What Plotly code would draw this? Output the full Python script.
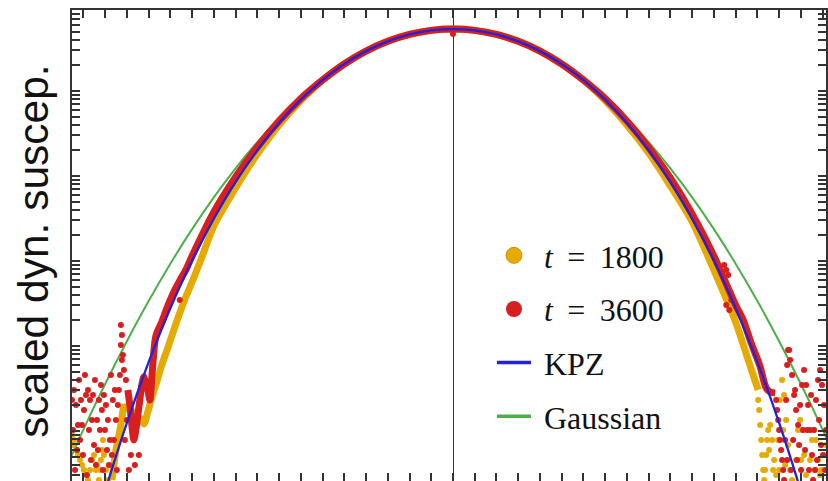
import plotly.graph_objects as go

# ---------------- data ----------------
# theory curves, x in scaled units (tick spacing 0.25)
kpz_x = [-4.25, -4.0, -3.75, -3.5, -3.25, -3.0, -2.75, -2.5, -2.25, -2.0, -1.75, -1.5,
         -1.25, -1.0, -0.75, -0.5, -0.25, 0.0, 0.25, 0.5, 0.75, 1.0, 1.25, 1.5, 1.75,
         2.0, 2.25, 2.5, 2.75, 3.0, 3.25, 3.5, 3.75, 4.0, 4.25]
kpz_y = [2.48e-7, 1.957e-6, 1.245e-5, 6.449e-5, 2.785e-4, 1.014e-3, 3.145e-3, 8.501e-3,
         2.007e-2, 4.213e-2, 7.92e-2, 0.1345, 0.208, 0.2945, 0.3841, 0.4627, 0.517, 0.536,
         0.517, 0.4627, 0.3841, 0.2945, 0.208, 0.1345, 7.92e-2, 4.213e-2, 2.007e-2,
         8.501e-3, 3.145e-3, 1.014e-3, 2.785e-4, 6.449e-5, 1.245e-5, 1.957e-6, 2.48e-7]

gauss_x = [-4.5, -4.25, -4.0, -3.75, -3.5, -3.25, -3.0, -2.75, -2.5, -2.25, -2.0, -1.75,
           -1.5, -1.25, -1.0, -0.75, -0.5, -0.25, 0.0, 0.25, 0.5, 0.75, 1.0, 1.25, 1.5,
           1.75, 2.0, 2.25, 2.5, 2.75, 3.0, 3.25, 3.5, 3.75, 4.0, 4.25, 4.5]
gauss_y = [2.79e-6, 1.04e-5, 3.57e-5, 1.14e-4, 3.38e-4, 9.29e-4, 2.37e-3, 5.61e-3, 1.232e-2,
           2.51e-2, 4.75e-2, 8.32e-2, 0.1355, 0.2046, 0.2866, 0.3725, 0.449, 0.503, 0.522,
           0.503, 0.449, 0.3725, 0.2866, 0.2046, 0.1355, 8.32e-2, 4.75e-2, 2.51e-2, 1.232e-2,
           5.61e-3, 2.37e-3, 9.29e-4, 3.38e-4, 1.14e-4, 3.57e-5, 1.04e-5, 2.79e-6]

# t = 3600, dense (continuous-looking) part
t3600_core_x = [-3.739, -3.716, -3.693, -3.670, -3.647, -3.624, -3.601, -3.578, -3.555, -3.532,
                -3.509, -3.486, -3.475, -3.452,
                -3.417, -3.349, -3.280, -3.200, -3.131, -3.073, -3.0, -2.75, -2.5, -2.25,
                -2.0, -1.75, -1.5, -1.25, -1.0, -0.75, -0.5, -0.25, 0.0, 0.25, 0.5, 0.75,
                1.0, 1.25, 1.5, 1.75, 2.0, 2.25, 2.5, 2.75, 3.0, 3.25, 3.337, 3.429, 3.529,
                3.601, 3.647, 3.704]
t3600_core_y = [3.04e-5, 2.02e-5, 1.18e-5, 7.84e-6, 1.03e-5, 1.54e-5, 2.32e-5, 3.48e-5, 4.32e-5,
                3.48e-5, 3.04e-5, 2.32e-5, 2.88e-5, 5.98e-5,
                1.31e-4, 1.92e-4, 2.96e-4, 4.56e-4, 6.14e-4, 7.84e-4, 1.146e-3, 3.771e-3,
                9.732e-3, 2.194e-2, 4.448e-2, 8.14e-2, 0.1345, 0.208, 0.2945, 0.3841, 0.4627,
                0.517, 0.536, 0.517, 0.4627, 0.3841, 0.2945, 0.208, 0.1345, 8.14e-2, 4.44e-2,
                2.164e-2, 9.474e-3, 3.573e-3, 1.146e-3, 3.04e-4, 2.02e-4, 1.08e-4, 5.82e-5,
                3.21e-5, 2.88e-5, 2.80e-5]
# t = 3600, scattered points in the tails
t3600_tail_x = [-3.796, -3.807, -3.819, -3.819, -3.807, -3.830, -3.842, -3.853, -3.876, -3.899,
                -3.922, -3.945, -3.968, -3.991, -4.014, -4.037, -4.060, -4.083, -4.106, -4.128,
                -4.151, -4.174, -4.197, -4.220, -4.243, -4.266, -4.289, -4.312, -4.335, -4.358,
                -4.381, -3.911, -3.956, -4.002, -4.048, -4.094, -4.140, -4.186, -4.232, -4.278,
                -4.323, -4.369, -3.750, -3.704, -3.865, -3.773, -3.658, -4.025, -4.163, -4.209,
                -4.300, -4.071, -3.888, -3.142, -3.612, -3.933, -4.117, -4.255, -4.346, -3.979,
                -3.727, -3.784, -3.761,
                0.0,
                3.716, 3.727, 3.739, 3.750, 3.761, 3.773, 3.784, 3.796, 3.807, 3.819, 3.830,
                3.842, 3.853, 3.865, 3.876, 3.899, 3.922, 3.945, 3.968, 3.991, 4.014, 4.037,
                4.060, 4.083, 4.106, 4.128, 4.151, 4.174, 4.197, 4.220, 4.243, 4.266, 4.289,
                3.911, 3.956, 4.002, 4.048, 4.094, 4.140, 4.186, 4.232, 4.278, 3.888, 3.842,
                3.933, 4.025, 4.117, 4.209, 4.255, 3.979, 4.071, 4.163,
                3.119, 3.142, 3.165, 3.142, 3.177, 3.200]
t3600_tail_y = [7.84e-5, 1.35e-4, 1.77e-4, 1.03e-4, 6.84e-5, 4.56e-5, 3.04e-5, 2.02e-5, 1.35e-5,
                7.84e-6, 5.22e-6, 7.84e-6, 1.35e-5, 2.02e-5, 2.65e-5, 1.77e-5, 1.03e-5, 5.98e-6,
                3.98e-6, 6.84e-6, 1.35e-5, 2.32e-5, 3.04e-5, 2.65e-5, 1.77e-5, 1.18e-5, 7.84e-6,
                1.18e-5, 2.02e-5, 3.04e-5, 2.32e-5, 2.32e-5, 3.98e-6, 1.03e-5, 3.48e-5, 1.35e-5,
                2.65e-5, 1.03e-5, 4.56e-5, 2.32e-5, 5.98e-6, 1.03e-5, 1.35e-5, 5.22e-6, 3.48e-6,
                7.84e-6, 3.98e-6, 3.48e-6, 4.56e-6, 3.04e-6, 3.98e-5, 2.32e-5, 3.04e-5, 3.48e-4,
                5.22e-6, 4.56e-5, 3.98e-5, 5.22e-6, 3.48e-6, 5.98e-6, 3.48e-6, 5.22e-5, 3.98e-5,
                0.469,
                2.32e-5, 1.77e-5, 1.35e-5, 1.03e-5, 7.84e-6, 5.98e-6, 4.56e-6, 3.48e-6, 2.65e-6,
                7.84e-6, 2.32e-5, 5.98e-5, 8.97e-5, 8.97e-5, 6.84e-5, 4.56e-5, 2.65e-5, 1.77e-5,
                1.18e-5, 2.02e-5, 3.48e-5, 5.22e-5, 3.48e-5, 2.02e-5, 1.03e-5, 5.22e-6, 1.03e-5,
                2.32e-5, 3.98e-5, 5.22e-5, 3.48e-5, 2.02e-5, 1.03e-5,
                7.84e-6, 4.56e-6, 3.48e-6, 5.98e-6, 3.48e-6, 2.65e-6, 4.56e-6, 6.84e-6, 3.48e-6,
                3.48e-6, 4.56e-6, 3.04e-5, 1.03e-5, 2.65e-5, 1.35e-5, 5.22e-6, 6.84e-6, 1.03e-5,
                3.48e-6,
                8.97e-4, 7.84e-4, 6.84e-4, 3.04e-4, 2.65e-4, 3.48e-4]

# t = 1800, dense (continuous-looking) part
t1800_core_x = [-3.922, -3.899, -3.876, -3.853, -3.830, -3.807, -3.784, -3.739, -3.693, -3.647,
                -3.601, -3.555, -3.509, -3.463,
                -3.417, -3.349, -3.280, -3.211, -3.142, -3.073, -3.0, -2.878, -2.75, -2.5,
                -2.25, -2.0, -1.75, -1.5, -1.25, -1.0, -0.75, -0.5, -0.25, 0.0, 0.25, 0.5,
                0.75, 1.0, 1.25, 1.5, 1.75, 2.0, 2.25, 2.5, 2.75, 3.0, 3.25, 3.357, 3.417,
                3.471, 3.509]
t1800_core_y = [2.65e-6, 3.98e-6, 5.98e-6, 7.84e-6, 1.03e-5, 1.42e-5, 1.92e-5, 1.81e-5, 1.72e-5,
                1.58e-5, 1.42e-5, 1.21e-5, 1.68e-5, 2.51e-5,
                3.48e-5, 5.98e-5, 9.47e-5, 1.54e-4, 2.45e-4, 3.77e-4, 5.66e-4, 1.18e-3,
                2.58e-3, 7.225e-3, 1.815e-2, 3.98e-2, 7.71e-2, 0.1345, 0.208, 0.2945, 0.3841,
                0.4627, 0.517, 0.536, 0.517, 0.4627, 0.3841, 0.2945, 0.208, 0.1345, 7.71e-2,
                3.98e-2, 1.865e-2, 7.627e-3, 2.88e-3, 7.84e-4, 1.92e-4, 8.97e-5, 5.82e-5,
                3.98e-5, 3.04e-5]
# t = 1800, scattered points in the tails
t1800_tail_x = [-4.025, -4.037, -4.048, -4.060, -4.071, -4.014, -4.094, -4.381,
                -4.358, -4.335, -4.312, -4.289, -4.266, -4.243, -4.220, -4.197, -4.174, -4.151,
                -4.128, -4.106, -3.991, -3.968, -4.369,
                3.521, 3.532, 3.544, 3.555, 3.567, 3.578, 3.601, 3.624, 3.647, 3.670, 3.693,
                3.716, 3.739, 3.761, 3.784, 3.807, 3.830, 3.853, 3.876, 3.899, 3.945, 3.968,
                3.991, 4.014, 4.037, 4.060, 4.106, 4.128, 4.151, 4.174, 4.197, 4.220, 4.266,
                4.289, 3.589, 3.635, 3.681, 3.796, 3.819, 4.002, 4.163, 4.232, 3.750, 3.612,
                3.509]
t1800_tail_y = [7.84e-6, 5.98e-6, 4.56e-6, 3.48e-6, 2.65e-6, 5.22e-6, 3.98e-6, 8.97e-6,
                7.84e-6, 5.98e-6, 5.22e-6, 4.56e-6, 3.98e-6, 3.48e-6, 3.04e-6, 2.65e-6, 3.48e-6,
                4.56e-6, 5.22e-6, 3.48e-6, 3.48e-6, 2.65e-6, 6.84e-6,
                1.77e-5, 1.18e-5, 7.84e-6, 5.22e-6, 3.48e-6, 2.65e-6, 5.22e-6, 1.03e-5, 1.18e-5,
                7.84e-6, 4.56e-6, 3.04e-6, 7.84e-6, 2.32e-5, 3.98e-5, 2.65e-5, 1.35e-5, 6.84e-6,
                3.48e-6, 2.65e-6, 4.56e-6, 1.03e-5, 1.35e-5, 1.03e-5, 5.22e-6, 3.04e-6, 4.56e-6,
                7.84e-6, 1.03e-5, 7.84e-6, 4.56e-6, 3.04e-6, 5.22e-6, 6.84e-6, 3.48e-6, 5.98e-6,
                3.48e-6, 1.03e-5, 3.98e-6, 4.56e-6, 3.48e-6, 3.48e-6, 3.48e-6, 7.84e-6, 2.32e-5]

legend_names = ["<i>t</i> \u2009=\u2009 1800", "<i>t</i> \u2009=\u2009 3600", "KPZ", "Gaussian"]

# ---------------- styling ----------------
YELLOW = "#e6ab02"
RED = "#d71f1f"
BLUE = "#2222dd"
GREEN = "#4daf4a"
AX = "#333333"

fig = go.Figure()

fig.add_trace(go.Scatter(x=gauss_x, y=gauss_y, mode="lines", line=dict(color=GREEN, width=2, shape="spline"),
                         showlegend=False, hoverinfo="skip"))
fig.add_trace(go.Scatter(x=t1800_core_x, y=t1800_core_y, mode="lines",
                         line=dict(color=YELLOW, width=7, shape="spline", smoothing=0.8),
                         showlegend=False, hoverinfo="skip"))
fig.add_trace(go.Scatter(x=t1800_tail_x, y=t1800_tail_y, mode="markers", marker=dict(color=YELLOW, size=6),
                         showlegend=False, hoverinfo="skip"))
fig.add_trace(go.Scatter(x=t3600_core_x, y=t3600_core_y, mode="lines",
                         line=dict(color=RED, width=7, shape="spline", smoothing=0.8),
                         showlegend=False, hoverinfo="skip"))
fig.add_trace(go.Scatter(x=t3600_tail_x, y=t3600_tail_y, mode="markers", marker=dict(color=RED, size=6),
                         showlegend=False, hoverinfo="skip"))
fig.add_trace(go.Scatter(x=kpz_x, y=kpz_y, mode="lines", line=dict(color=BLUE, width=2.3, shape="spline"),
                         showlegend=False, hoverinfo="skip"))

# legend entries
NB = "\u00a0"
fig.add_trace(go.Scatter(x=[None], y=[None], mode="markers", name=NB + legend_names[0], legendgroup="a",
                         marker=dict(color=YELLOW, size=16, line=dict(color="#c99500", width=1))))
fig.add_trace(go.Scatter(x=[None], y=[None], mode="markers", name=NB + legend_names[1], legendgroup="b",
                         marker=dict(color=RED, size=16)))
fig.add_trace(go.Scatter(x=[None], y=[None], mode="lines", name=NB + legend_names[2], legendgroup="c",
                         line=dict(color=BLUE, width=3.5)))
fig.add_trace(go.Scatter(x=[None], y=[None], mode="lines", name=NB + legend_names[3], legendgroup="d",
                         line=dict(color=GREEN, width=3.5)))

ytv = [m * 10.0 ** e for e in range(-7, 1) for m in range(1, 10)]

fig.update_layout(
    width=828, height=481,
    margin=dict(l=72, r=0, t=10, b=0),
    paper_bgcolor="white", plot_bgcolor="white",
    font=dict(family="Liberation Serif", color="#111111"),
    legend=dict(x=0.557, y=0.537, xanchor="left", yanchor="top",
                font=dict(family="Liberation Serif", size=32, color="#111111"),
                bgcolor="rgba(0,0,0,0)", borderwidth=0, itemwidth=34,
                traceorder="grouped", tracegroupgap=9),
    xaxis=dict(range=[-4.381, 4.289], showgrid=False, showticklabels=False,
               ticks="inside", ticklen=8, tickwidth=1.5, tickcolor=AX,
               tick0=0, dtick=0.25, showline=True, linecolor=AX, linewidth=1.5,
               mirror="ticks", zeroline=True, zerolinecolor=AX, zerolinewidth=1),
    yaxis=dict(type="log", range=[-5.588, -0.047], showgrid=False, showticklabels=False,
               tickmode="array", tickvals=ytv,
               ticks="inside", ticklen=8, tickwidth=1.5, tickcolor=AX,
               showline=True, linecolor=AX, linewidth=1.5, mirror="ticks", zeroline=False),
    annotations=[dict(text="scaled dyn. suscep.", xref="paper", yref="paper",
                      x=-0.0522, y=0.4883, xanchor="center", yanchor="middle",
                      textangle=-90, showarrow=False,
                      font=dict(family="Liberation Sans", size=42.5, color="#111111"))],
)

fig.write_html("out.html", config={"displayModeBar": False},
               post_script="document.body.style.margin='0';document.body.style.overflow='hidden';")
